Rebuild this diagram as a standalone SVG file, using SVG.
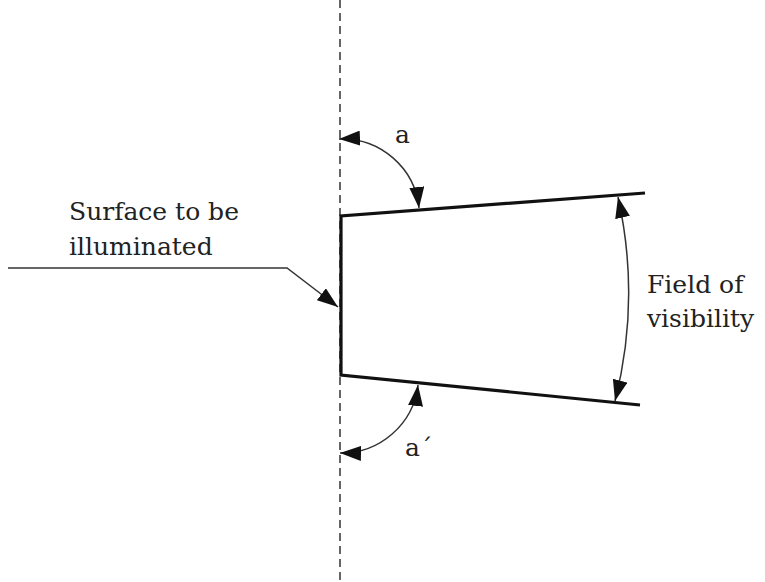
<svg xmlns="http://www.w3.org/2000/svg" width="765" height="582" viewBox="0 0 765 582">
<style>
.thin{fill:none;stroke:#333;stroke-width:1.5}
.thick{fill:none;stroke:#111;stroke-width:3.2}
.dash{fill:none;stroke:#333;stroke-width:1.5;stroke-dasharray:8 5}
.txt{font-family:"DejaVu Serif",serif;font-size:25px;fill:#222}
</style>
<defs>
<marker id="ah" viewBox="0 0 21 15" refX="21" refY="7.5" markerWidth="21" markerHeight="15" markerUnits="userSpaceOnUse" orient="auto-start-reverse">
<path d="M0,0 L21,7.5 L0,15 Z" fill="#111"/>
</marker>
</defs>
<rect width="765" height="582" fill="#fff"/>
<g id="axis"><line class="dash" x1="340" y1="0" x2="340" y2="582"/></g>
<g id="field-shape">
<polyline class="thick" points="645,193 341,216 341,375 640,405"/>
</g>
<g id="connectors">
<path class="thin" d="M339,139 A77,77 0 0 1 419,208" marker-start="url(#ah)" marker-end="url(#ah)"/>
<path class="thin" d="M418,385 A77,77 0 0 1 340,453" marker-start="url(#ah)" marker-end="url(#ah)"/>
<path class="thin" d="M618,197 A440,440 0 0 1 615,401" marker-start="url(#ah)" marker-end="url(#ah)"/>
<polyline class="thin" points="8,268 287,268 338,307" marker-end="url(#ah)"/>
</g>
<g id="label-a"><text class="txt" x="395" y="143" font-size="28">a</text></g>
<g id="label-a2"><text class="txt" x="405" y="456" font-size="28">a´</text></g>
<g id="label-surface"><text class="txt" x="69" y="220">Surface to be</text><text class="txt" x="69" y="255">illuminated</text></g>
<g id="label-field"><text class="txt" x="647" y="293">Field of</text><text class="txt" x="647" y="327">visibility</text></g>
</svg>
